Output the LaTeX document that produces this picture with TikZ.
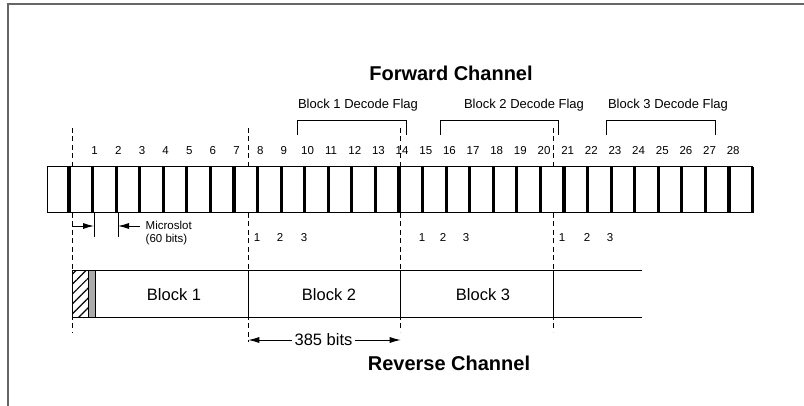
\documentclass[tikz,border=0pt]{standalone}
\usepackage{fontspec}
\setmainfont{Liberation Sans}
\usetikzlibrary{arrows.meta,patterns.meta}

\begin{document}
\begin{tikzpicture}[x=1pt,y=-1pt,>={Latex[length=11pt,width=6pt]},
  frm/.style={line width=1.5pt,black!60},
  slotbar/.style={line width=3.2pt},
  guide/.style={line width=0.8pt,dash pattern=on 5pt off 3.5pt},
  flag/.style={line width=1pt},
  dimarr/.style={line width=0.9pt,->},
  num/.style={font=\fontsize{11.5}{13}\selectfont,inner sep=0pt,anchor=base},
  lbl/.style={font=\fontsize{13}{15}\selectfont,inner sep=0pt},
  blk/.style={font=\fontsize{16.5}{19}\selectfont,inner sep=2pt},
  ttl/.style={font=\fontsize{20}{24}\selectfont\bfseries,inner sep=0pt},
]
\useasboundingbox (0,0) rectangle (804,406);

%% Layout parameters
\def\xo{69}       % first slot bar
\def\ms{23.57}    % microslot width
\def\yT{167}      % forward channel top
\def\yB{213}      % forward channel bottom
\def\rT{271}      % reverse channel top
\def\rB{318}      % reverse channel bottom
\pgfmathsetmacro{\xEnd}{\xo+29*\ms}

%% ---- frame ----
\draw[frm] (8,406)--(8,4)--(804,4);

%% ---- block boundaries (dashed) ----
\foreach \gx/\gb [count=\i] in {72/333,248.3/342,400.7/332,553.3/332}{
  \coordinate (g\i) at (\gx,128);
  \coordinate (gb\i) at (\gx,\gb);
  \draw[guide] (g\i)--(gb\i);
}

%% ================================================================
%%  Forward channel
%% ================================================================
\node[ttl] (fwd) at (451,73) {Forward Channel};

\filldraw[line width=1pt,fill=white] (47,\yT) rectangle (\xEnd,\yB);
\foreach \k in {0,...,29}
  \draw[slotbar] (\xo+\k*\ms,\yT)--(\xo+\k*\ms,\yB);

\foreach \n in {1,...,28}
  \node[num] (n\n) at (71+23.65*\n,154.2) {\n};

%% decode flags
\draw[flag] (297,135)--(297,121)--(406,121)--(406,135);
\draw[flag] (440,135)--(440,121)--(558,121)--(558,135);
\draw[flag] (606,135)--(606,121)--(715,121)--(715,135);
\node[lbl] (df1) at (358,105) {Block 1 Decode Flag};
\node[lbl] (df2) at (524,105) {Block 2 Decode Flag};
\node[lbl] (df3) at (668,105) {Block 3 Decode Flag};

%% microslot
\coordinate (ta) at (94,\yB);
\coordinate (tb) at (118,\yB);
\draw[line width=0.8pt] (ta)--++(0,24) (tb)--++(0,24);
\coordinate (ma) at (72,226);
\coordinate (mb) at (94,226);
\coordinate (mc) at (140,226);
\coordinate (md) at (118,226);
\draw[dimarr] (ma)--(mb);
\draw[dimarr] (mc)--(md);
\node[inner sep=0pt,anchor=west,align=left,font=\fontsize{11.5}{13}\selectfont]
  (msl) at (145.5,233.5) {Microslot\\(60 bits)};

%% block microslot counts
\foreach \px/\t [count=\i] in {257/1,280/2,304/3,422/1,443/2,466/3,562/1,587/2,610/3}
  \node[num] (c\i) at (\px,241.2) {\t};

%% ================================================================
%%  Reverse channel
%% ================================================================
\fill[pattern={Lines[angle=45,distance=7pt,line width=1.2pt]}]
  (72,\rT) rectangle (88,\rB);
\fill[black!33] (88,\rT) rectangle (95.7,\rB);
\draw[line width=1pt] (642,\rT)--(72,\rT)--(72,\rB)--(642,\rB);
\foreach \bx in {88,95.7,248.3,400.7,553.3}
  \draw[line width=1pt] (\bx,\rT)--(\bx,\rB);

\node[blk] (b1) at (174,295) {Block 1};
\node[blk] (b2) at (329,295) {Block 2};
\node[blk] (b3) at (483,295) {Block 3};

%% block length
\node[blk] (len) at (323.5,340) {385 bits};
\coordinate (la) at (248.3,340);
\coordinate (lb) at (400.7,340);
\draw[dimarr] (len.west)--(la);
\draw[dimarr] (len.east)--(lb);

\node[ttl] (rev) at (449,363) {Reverse Channel};

\end{tikzpicture}
\end{document}
